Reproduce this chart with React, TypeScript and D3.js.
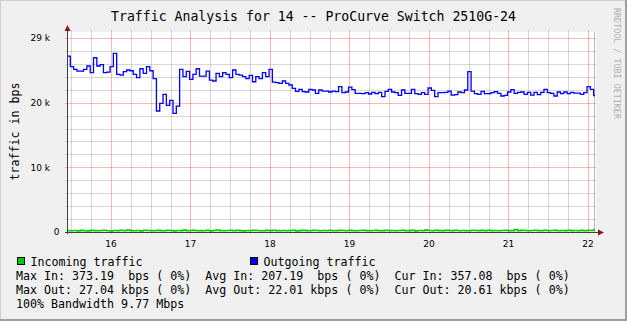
import React from "react";
import * as d3 from "d3";

const W = 627;
const H = 321;

const titleText = "Traffic Analysis for 14 -- ProCurve Switch 2510G-24";
const yAxisTitle = "traffic in bps";
const watermark = "RRDTOOL / TOBI OETIKER";

const dayTicks = [16, 17, 18, 19, 20, 21, 22];
const dayLabels = ["16", "17", "18", "19", "20", "21", "22"];
const yTicks = [0, 10000, 20000, 30000];
const yTickLabels = ["0", "10 k", "20 k", "29 k"];

const timeDomain = [15.4465, 22.101];
const valueDomain = [0, 30930];
const sampleStart = 15.4465;
const sampleStepDays = 1 / 24;

const outgoing = [
  27210, 25560, 25150, 24890, 24890, 25150, 25670, 24640, 26950, 25670,
  25870, 24640, 24740, 25560, 27620, 24380, 24270, 24790, 25050, 24940,
  24380, 23860, 25250, 24530, 25560, 24940, 23710, 18710, 19900, 21290,
  19590, 20360, 18350, 19480, 25150, 24020, 24840, 23600, 24380, 25250,
  24120, 24120, 24890, 23500, 23350, 24530, 24020, 24640, 24380, 23860,
  25050, 24380, 24270, 24020, 23710, 24220, 23240, 24020, 23710, 24640,
  24020, 25150, 23190, 23090, 22990, 23350, 22990, 22730, 22210, 21750,
  22060, 21700, 21650, 22060, 21960, 21440, 21960, 21800, 21800, 21650,
  21800, 21700, 22470, 21550, 21650, 22420, 22010, 21440, 21440, 21390,
  21550, 21340, 21600, 21390, 21600, 20930, 21750, 22060, 21650, 21550,
  21130, 21960, 21440, 21440, 22060, 21390, 21290, 21550, 21290, 22270,
  21910, 20930, 21550, 21550, 21600, 21800, 21180, 21240, 21650, 21550,
  21960, 24790, 21800, 21390, 21290, 21750, 21390, 21390, 21550, 21700,
  21440, 21030, 21130, 21650, 22010, 21440, 21600, 21650, 21290, 21600,
  21180, 21600, 21240, 21600, 22060, 21550, 21440, 21030, 21650, 21390,
  21650, 21390, 21600, 21490, 21490, 21290, 21550, 22470, 22060, 21100,
];

const incoming = [
  210, 190, 230, 180, 250, 200, 170, 260, 220, 190, 240, 280, 200, 180, 230, 210, 260, 190, 300, 220,
  200, 240, 180, 270, 230, 210, 190, 250, 220, 200, 260, 230, 180, 240, 210, 290, 200, 230, 250, 190,
  220, 200, 260, 180, 240, 300, 210, 190, 230, 270, 200, 250, 220, 180, 240, 210, 260, 230, 200, 190,
  250, 220, 280, 210, 190, 240, 200, 230, 260, 180, 220, 250, 210, 200, 270, 230, 190, 240, 220, 260,
  200, 210, 250, 230, 190, 280, 220, 200, 240, 260, 210, 190, 230, 250, 200, 220, 270, 210, 240, 190,
  230, 260, 200, 220, 250, 180, 240, 210, 290, 230, 200, 260, 220, 190, 250, 230, 210, 270, 200, 240,
  220, 190, 260, 230, 210, 250, 200, 280, 220, 240, 190, 230, 260, 210, 200, 373, 220, 250, 230, 190,
  240, 260, 210, 220, 280, 200, 230, 250, 190, 240, 220, 260, 210, 230, 200, 250, 190, 270, 240, 357,
];

const legendNames = ["Incoming traffic", "Outgoing traffic"];
const seriesColors = ["#00cc00", "#0000ff"];
const statLines = [
  "Max In: 373.19  bps ( 0%)  Avg In: 207.19  bps ( 0%)  Cur In: 357.08  bps ( 0%)",
  "Max Out: 27.04 kbps ( 0%)  Avg Out: 22.01 kbps ( 0%)  Cur Out: 20.61 kbps ( 0%)",
  "100% Bandwidth 9.77 Mbps",
];

const MONO = "'DejaVu Sans Mono', monospace";
const SANS = "'DejaVu Sans', sans-serif";

export default function App() {
  const left = 67;
  const right = 596;
  const top = 32;
  const bottom = 232;

  const x = d3.scaleLinear().domain(timeDomain).range([left, right]);
  const y = d3.scaleLinear().domain(valueDomain).range([bottom, top]);
  const crisp = (v: number) => Math.round(v) + 0.5;

  const toPoints = (vals: number[]) => {
    const pts = vals.map((v, i) => [sampleStart + i * sampleStepDays, v] as [number, number]);
    pts.push([sampleStart + vals.length * sampleStepDays, vals[vals.length - 1]]);
    return pts;
  };

  const line = d3
    .line<[number, number]>()
    .x((d) => x(d[0]))
    .y((d) => y(d[1]))
    .curve(d3.curveStepAfter);

  const minorY = d3.range(0, valueDomain[1], 2000).filter((v) => v % 10000 !== 0);
  const minorX = d3
    .range(Math.ceil(timeDomain[0] * 4) / 4, timeDomain[1], 0.25)
    .filter((v) => Math.abs(v - Math.round(v)) > 1e-6);

  const minorColor = "rgba(140,140,140,0.35)";
  const majorColor = "rgba(255,0,0,0.28)";
  const axisColor = "#404040";
  const arrowColor = "#7f1c1c";

  const legendY = [266, 280, 294, 308];

  return (
    <svg
      width={W}
      height={H}
      style={{ position: "absolute", left: 0, top: 0, display: "block" }}
    >
      <rect x={0} y={0} width={W} height={H} fill="#f0f0f0" />
      <line x1={0} y1={0.5} x2={W} y2={0.5} stroke="#d0d0d0" />
      <line x1={0.5} y1={0} x2={0.5} y2={H} stroke="#d0d0d0" />
      <line x1={0} y1={H - 1} x2={W} y2={H - 1} stroke="#9e9e9e" strokeWidth={2} />
      <line x1={W - 1} y1={0} x2={W - 1} y2={H} stroke="#9e9e9e" strokeWidth={2} />

      <rect x={left} y={top} width={right - left} height={bottom - top} fill="#ffffff" />

      <clipPath id="plotclip">
        <rect x={left} y={top - 2} width={right - left - 1} height={bottom - top + 4} />
      </clipPath>

      {minorY.map((v) => (
        <line key={"my" + v} x1={left - 2} x2={right} y1={crisp(y(v))} y2={crisp(y(v))} stroke={minorColor} />
      ))}
      {minorX.map((t) => (
        <line key={"mx" + t} x1={crisp(x(t))} x2={crisp(x(t))} y1={top - 2} y2={bottom + 2} stroke={minorColor} />
      ))}
      {yTicks.slice(1).map((v) => (
        <line key={"My" + v} x1={left - 2} x2={right} y1={crisp(y(v))} y2={crisp(y(v))} stroke={majorColor} />
      ))}
      {dayTicks.map((t) => (
        <line key={"Mx" + t} x1={crisp(x(t))} x2={crisp(x(t))} y1={top - 2} y2={bottom + 2} stroke={majorColor} />
      ))}
      <line x1={right - 1.5} x2={right - 1.5} y1={top} y2={bottom} stroke="rgba(120,120,120,0.5)" />

      <g clipPath="url(#plotclip)">
        <path d={line(toPoints(incoming)) || ""} fill="none" stroke={seriesColors[0]} strokeWidth={1.6} />
        <path d={line(toPoints(outgoing)) || ""} fill="none" stroke={seriesColors[1]} strokeWidth={1.3} />
      </g>

      <line x1={left - 2} x2={right + 4} y1={crisp(bottom)} y2={crisp(bottom)} stroke={axisColor} />
      <line x1={crisp(left)} x2={crisp(left)} y1={bottom + 2} y2={top - 3} stroke={axisColor} />
      <path
        d={`M${right + 8},${crisp(bottom)} L${right + 2},${crisp(bottom) - 3} L${right + 2},${crisp(bottom) + 3} Z`}
        fill={arrowColor}
      />
      <path
        d={`M${crisp(left)},${top - 7} L${crisp(left) - 3},${top - 1} L${crisp(left) + 3},${top - 1} Z`}
        fill={arrowColor}
      />

      {yTicks.map((v, i) => (
        <text
          key={"yl" + v}
          x={v === 0 ? 59.5 : 50}
          y={y(v) + 3.3}
          textAnchor="end"
          fontFamily={SANS}
          fontSize={9}
          fill="#000"
        >
          {yTickLabels[i]}
        </text>
      ))}
      {dayTicks.map((t, i) => (
        <text
          key={"xl" + t}
          x={x(t)}
          y={246.8}
          textAnchor="middle"
          fontFamily={SANS}
          fontSize={9}
          fill="#000"
        >
          {dayLabels[i]}
        </text>
      ))}

      <text x={W / 2} y={20.5} textAnchor="middle" fontFamily={MONO} fontSize={13.2} fill="#000" style={{ whiteSpace: "pre" }}>
        {titleText}
      </text>

      <text
        transform={`translate(18.5,131.5) rotate(-90)`}
        textAnchor="middle"
        fontFamily={MONO}
        fontSize={11.65}
        fill="#000"
      >
        {yAxisTitle}
      </text>

      <text
        transform={`translate(613.5,8) rotate(90)`}
        textAnchor="start"
        fontFamily={MONO}
        fontSize={8.4}
        fill="#b0b0b0"
      >
        {watermark}
      </text>

      {legendNames.map((name, i) => (
        <g key={name}>
          <rect
            x={[17.5, 250.5][i]}
            y={legendY[0] - 8.5}
            width={7}
            height={7}
            fill={seriesColors[i]}
            stroke="#000"
            strokeWidth={1}
          />
          <text x={[30.5, 263.5][i]} y={legendY[0]} fontFamily={MONO} fontSize={11.65} fill="#000" style={{ whiteSpace: "pre" }}>
            {name}
          </text>
        </g>
      ))}
      {statLines.map((s, i) => (
        <text key={"st" + i} x={16} y={legendY[i + 1]} fontFamily={MONO} fontSize={11.65} fill="#000" style={{ whiteSpace: "pre" }}>
          {s}
        </text>
      ))}
    </svg>
  );
}
